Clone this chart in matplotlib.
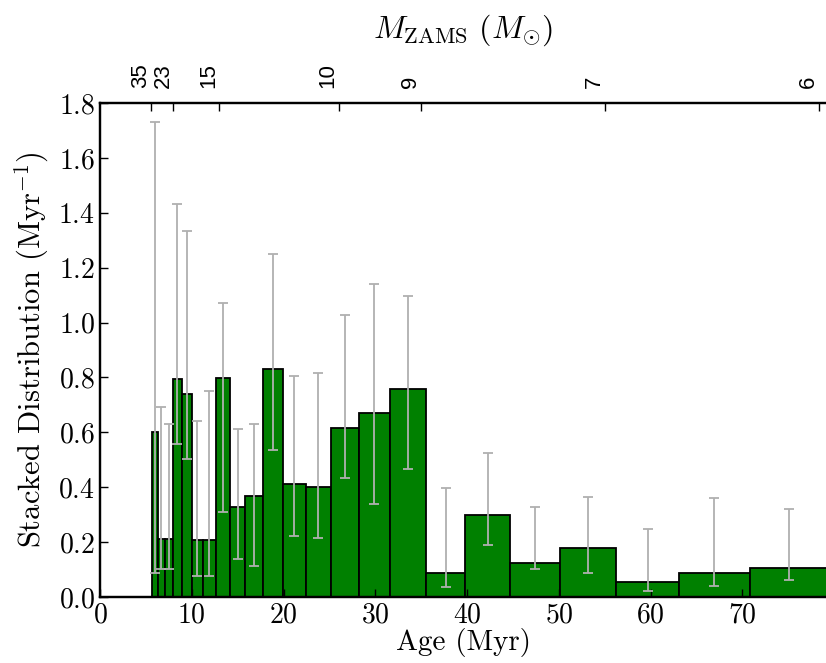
import matplotlib
matplotlib.use("Agg")
import matplotlib.pyplot as plt
import numpy as np

plt.rcParams['font.family'] = ['cmr10', 'DejaVu Sans']
plt.rcParams['mathtext.fontset'] = 'cm'
plt.rcParams['axes.formatter.use_mathtext'] = True

# Bin edges (Myr) - log-spaced age bins
bin_edges = [5.62, 6.31, 7.08, 7.94, 8.91, 10.00, 11.22, 12.59, 14.13, 15.85,
             17.78, 19.95, 22.39, 25.12, 28.18, 31.62, 35.48, 39.81, 44.67,
             50.12, 56.23, 63.10, 70.79, 79.43]
heights = [0.600, 0.213, 0.213, 0.793, 0.739, 0.209, 0.209, 0.799, 0.328, 0.367,
           0.829, 0.411, 0.400, 0.614, 0.671, 0.759, 0.089, 0.297, 0.125,
           0.178, 0.053, 0.088, 0.107]
err_hi = [1.729, 0.693, 0.630, 1.433, 1.334, 0.641, 0.751, 1.072, 0.612, 0.630,
          1.249, 0.807, 0.818, 1.029, 1.141, 1.095, 0.397, 0.526, 0.329,
          0.364, 0.246, 0.359, 0.322]
err_lo = [0.088, 0.101, 0.101, 0.557, 0.503, 0.078, 0.078, 0.309, 0.138, 0.113,
          0.534, 0.222, 0.214, 0.433, 0.339, 0.466, 0.036, 0.189, 0.101,
          0.089, 0.022, 0.041, 0.062]

# Top axis: ZAMS mass labels and their age positions (Myr)
mass_labels = ['35', '23', '15', '10', '9', '7', '6']
mass_tick_age = [5.6, 8.0, 13.0, 26.0, 35.0, 55.0, 78.3]

edges = np.array(bin_edges)
h = np.array(heights)
lefts = edges[:-1]
widths = np.diff(edges)
centers = lefts + widths / 2

fig = plt.figure(figsize=(8.26, 6.63), dpi=100)
ax = fig.add_axes([100/826, 1 - 597/663, 1 - 100/826, (597 - 103)/663])

ax.bar(lefts, h, width=widths, align='edge', color='green',
       edgecolor='black', linewidth=1.3, zorder=1)
ax.errorbar(centers, h, yerr=[h - np.array(err_lo), np.array(err_hi) - h],
            fmt='none', ecolor='#b0b0b0', elinewidth=1.3, capsize=3.6,
            capthick=1.3, zorder=3)

ax.set_xlim(0, 79.1)
ax.set_ylim(0, 1.8)
ax.set_xticks([0, 10, 20, 30, 40, 50, 60, 70])
ax.set_yticks(np.arange(0, 1.81, 0.2))
ax.set_xlabel('Age (Myr)', fontsize=21, labelpad=0)
ax.set_ylabel(r'Stacked Distribution (Myr$^{-1}$)', fontsize=22, labelpad=5)
ax.tick_params(axis='both', direction='in', length=6, width=1, labelsize=20,
               top=False, right=False)
for s in ['left', 'bottom', 'top']:
    ax.spines[s].set_linewidth(1.6)
ax.spines['right'].set_visible(False)

ax2 = ax.twiny()
ax2.set_xlim(ax.get_xlim())
ax2.set_xticks(mass_tick_age)
ax2.set_xticklabels(mass_labels, rotation=90, fontsize=16, ha='right',
                    family=['Liberation Sans', 'DejaVu Sans'])
ax2.tick_params(axis='x', direction='in', length=6, width=1, pad=11)
ax2.set_xlabel(r'$M_{\rm ZAMS}\ (M_{\odot})$', fontsize=23, labelpad=18)
for s in ['left', 'bottom', 'top']:
    ax2.spines[s].set_linewidth(1.6)
ax2.spines['right'].set_visible(False)

fig.savefig('out.png', dpi=100)
